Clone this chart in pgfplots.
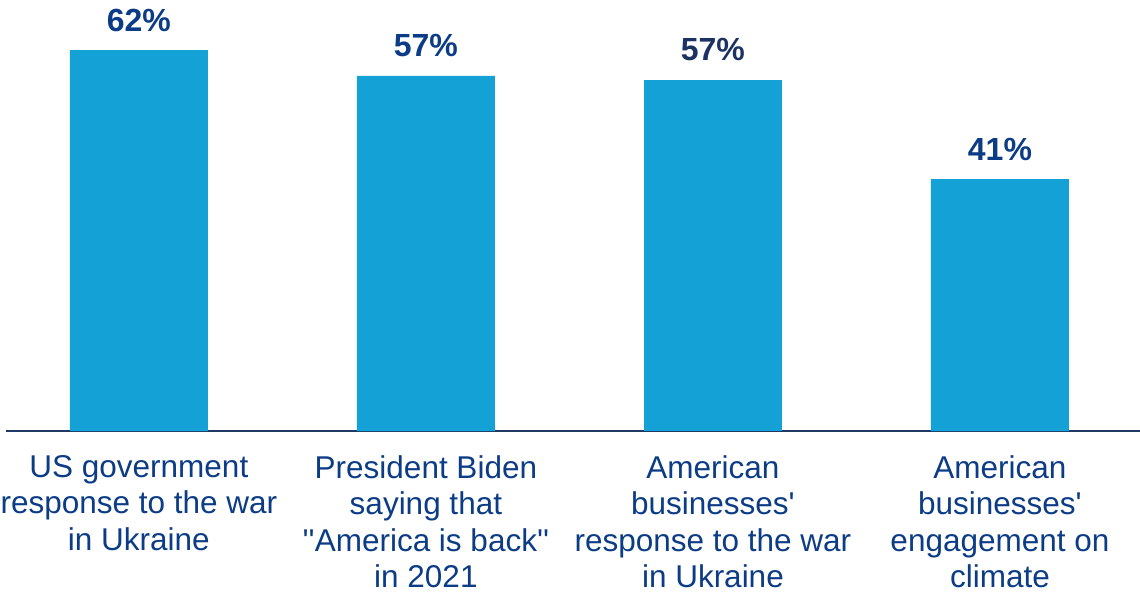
\documentclass[border=0pt]{standalone}
\usepackage{fontspec}
\setmainfont{Liberation Sans}[Ligatures=TeXOff]
\usepackage{pgfplots}
\pgfplotsset{compat=1.18}
\definecolor{barblue}{HTML}{14A1D5}
\definecolor{labnavy}{HTML}{0C3C86}
\definecolor{labdark}{HTML}{1B3262}
\definecolor{axisnavy}{HTML}{1F3864}
\begin{document}
\begin{tikzpicture}
\begin{axis}[
  at={(0,0)}, anchor=south west,
  scale only axis,
  width=1134pt, height=430pt,
  xmin=-0.463, xmax=3.488,
  ymin=0, ymax=70,
  axis y line=none,
  axis x line*=bottom,
  x axis line style={draw=axisnavy, line width=2pt},
  xtick={0,1,2,3},
  xticklabels={
    {US government\\response to the war\\in Ukraine},
    {President Biden\\saying that\\''America is back''\\in 2021},
    {American\\businesses'\\response to the war\\in Ukraine},
    {American\\businesses'\\engagement on\\climate}},
  major tick length=0pt,
  xticklabel style={align=center, text=labnavy, font=\fontsize{31.5}{36.5}\selectfont, anchor=north, yshift=-24pt, inner sep=0pt},
  ybar, bar width=138pt, bar shift=0pt,
  nodes near coords,
  point meta=explicit symbolic,
  every node near coord/.append style={font=\fontsize{32}{36}\selectfont\bfseries, text=labnavy, anchor=base, yshift=19pt, inner sep=0pt},
]
\addplot[fill=barblue, draw=none] coordinates {(0,62.0) [62\%] (1,57.8) [57\%] (3,41.0) [41\%]};
\addplot[fill=barblue, draw=none, every node near coord/.append style={text=labdark}] coordinates {(2,57.2) [57\%]};
\end{axis}
\pgfresetboundingbox
\path (-6pt,-164pt) rectangle (1134pt,431pt);
\end{tikzpicture}
\end{document}
